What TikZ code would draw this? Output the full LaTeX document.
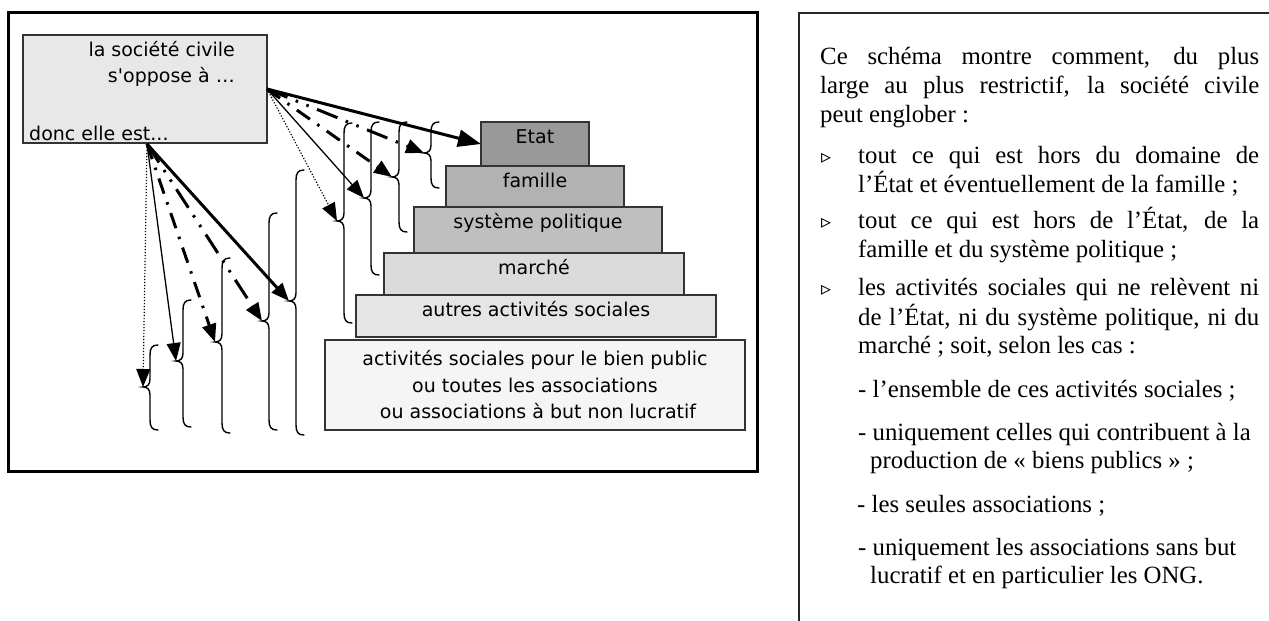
\documentclass[tikz,border=0pt]{standalone}
\usepackage{fontspec}
\setmainfont{Liberation Serif}
\newfontfamily\vfont{DejaVu Sans}
\newfontfamily\symfont{DejaVu Sans}
\usetikzlibrary{arrows.meta}
\newcommand{\mybrace}[5]{%
  \draw[bracestyle] ({#1+8},#2) .. controls ({#1+2},#2) and (#1,{#2+3}) .. (#1,{#2+10})
    -- (#1,{#3-8}) .. controls (#1,{#3-2}) and ({#1-3},#3) .. ({#1-7},#3)
    .. controls ({#1-3},#3) and (#1,{#3+2}) .. (#1,{#3+8})
    -- (#1,{#4-10}) .. controls (#1,{#4-3}) and ({#1+2},#4) .. ({#1+8},#4);
  \coordinate (#5) at ({#1-7},#3);}
\begin{document}
\begin{tikzpicture}[x=1pt,y=-1pt,
  box/.style={draw=black!80, line width=1.3pt, inner sep=0pt, outer sep=0pt, anchor=north west},
  vt/.style={font=\vfont\fontsize{19}{23}\selectfont, inner sep=0pt, anchor=base},
  rt/.style={font=\fontsize{24.8}{29}\selectfont, inner sep=0pt, anchor=base west},
  bul/.style={font=\symfont\fontsize{20}{24}\selectfont, inner sep=0pt, anchor=base west},
  bracestyle/.style={line width=1.4pt, line cap=round},
  head/.style={-{Triangle[length=18pt,width=14pt]}},
  bighead/.style={-{Triangle[length=23pt,width=17pt]}},
  thickl/.style={head, line width=3pt},
  thinl/.style={head, line width=1.3pt},
  dotl/.style={head, line width=1.2pt, dash pattern=on 1.2pt off 1.8pt},
  dashdot/.style={head, line width=3pt, dash pattern=on 16pt off 9pt on 2.5pt off 9pt},
  dashdotdot/.style={head, line width=3pt, dash pattern=on 22pt off 9pt on 2.5pt off 9pt on 2.5pt off 9pt},
  frameA/.style={line width=3pt},
  frameB/.style={line width=1.6pt, draw=black!85}
]
\useasboundingbox (0,0) rectangle (1269,621);

% frames
\draw[frameA] (8,12) rectangle (757,471);
\draw[frameB] (799,621) -- (799,13) -- (1269,13);

% label box
\node[box, fill=black!9, minimum width=244pt, minimum height=108pt] (lbl) at (23,35) {};
\node[vt, anchor=base east] (t1) at (235,56) {la société civile};
\node[vt, anchor=base east] (t2) at (235,82) {s\textquotesingle oppose à …};
\node[vt, anchor=base west] (t3) at (29,140) {donc elle est...};
\coordinate (o1) at (267,89);
\coordinate (o2) at (147,144);

% pyramid
\node[box, fill=black!40, minimum width=108pt, minimum height=44pt] (etat) at (481,122) {};
\node[box, fill=black!30, minimum width=178pt, minimum height=41pt] (fam) at (446,166) {};
\node[box, fill=black!25, minimum width=248pt, minimum height=46pt] (pol) at (414,207) {};
\node[box, fill=black!14, minimum width=300pt, minimum height=42pt] (mar) at (384,253) {};
\node[box, fill=black!10, minimum width=360pt, minimum height=42pt] (aut) at (356,295) {};
\node[box, fill=black!4, minimum width=420pt, minimum height=90pt] (pub) at (325,340) {};
\node[vt] (tetat) at (535,143) {Etat};
\node[vt] (tfam) at (535,187) {famille};
\node[vt] (tpol) at (538,228) {système politique};
\node[vt] (tmar) at (534,274) {marché};
\node[vt] (taut) at (536,316) {autres activités sociales};
\node[vt] (tpub1) at (535,365) {activités sociales pour le bien public};
\node[vt] (tpub2) at (535,392) {ou toutes les associations};
\node[vt] (tpub3) at (538,418) {ou associations à but non lucratif};

% braces
\mybrace{431}{122}{153}{188}{bA}
\mybrace{399}{122}{177}{232}{bB}
\mybrace{371}{122}{198}{275}{bC}
\mybrace{344}{123}{221}{323}{bD}
\mybrace{150}{345}{387}{430}{bE}
\mybrace{183}{300}{361}{427}{bF}
\mybrace{222}{258}{342}{433}{bG}
\mybrace{269}{213}{321}{430}{bH}
\mybrace{296}{170}{301}{435}{bI}

% arrows upper
\draw[line width=3pt, bighead] (o1) -- (etat.west);
\draw[dashdotdot] (o1) -- (bA);
\draw[dashdot] (o1) -- (bB);
\draw[thinl] (o1) -- (bC);
\draw[dotl] (o1) -- (bD);
% arrows lower
\draw[dotl] (o2) -- (bE);
\draw[thinl] (o2) -- (bF);
\draw[dashdot] (o2) -- (bG);
\draw[dashdotdot] (o2) -- (bH);
\draw[thickl] (o2) -- (bI);

% right text
\node[rt] (l1) at (820,64) {\makebox[439pt][s]{Ce schéma montre comment, du plus}};
\node[rt] (l2) at (820,93) {\makebox[439pt][s]{large au plus restrictif, la société civile}};
\node[rt] (l3) at (820,122) {peut englober :};
\node[bul] (u1) at (821,163) {▹};
\node[rt] (b1a) at (858,163) {\makebox[401pt][s]{tout ce qui est hors du domaine de}};
\node[rt] (b1b) at (858,192) {l’État et éventuellement de la famille ;};
\node[bul] (u2) at (821,228) {▹};
\node[rt] (b2a) at (858,228) {\makebox[401pt][s]{tout ce qui est hors de l’État, de la}};
\node[rt] (b2b) at (858,257) {famille et du système politique ;};
\node[bul] (u3) at (821,295) {▹};
\node[rt] (b3a) at (858,295) {\makebox[401pt][s]{les activités sociales qui ne relèvent ni}};
\node[rt] (b3b) at (858,325) {\makebox[401pt][s]{de l’État, ni du système politique, ni du}};
\node[rt] (b3c) at (858,353) {marché ; soit, selon les cas :};
\node[rt] (s1) at (858,397) {- l’ensemble de ces activités sociales ;};
\node[rt] (s2a) at (858,440) {- uniquement celles qui contribuent à la};
\node[rt] (s2b) at (870,468) {production de « biens publics » ;};
\node[rt] (s3) at (857,512) {- les seules associations ;};
\node[rt] (s4a) at (858,555) {- uniquement les associations sans but};
\node[rt] (s4b) at (870,583) {lucratif et en particulier les ONG.};
\end{tikzpicture}
\end{document}
